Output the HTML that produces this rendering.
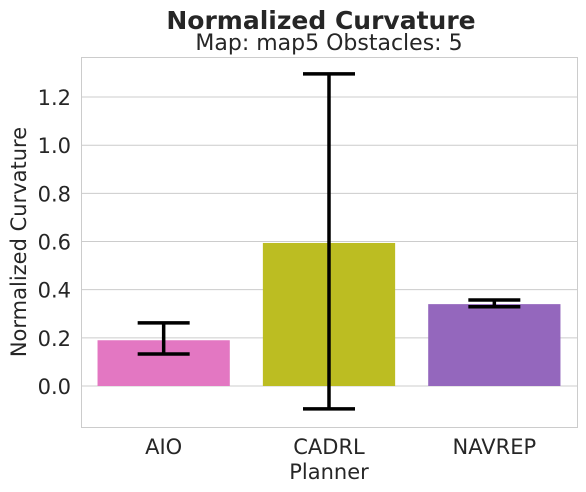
<!DOCTYPE html>
<html><head><meta charset="utf-8"><style>
body{margin:0;background:#fff;}
svg{display:block;font-family:"DejaVu Sans","Liberation Sans",sans-serif;}
</style></head><body>
<svg id="chart" width="586" height="492">
<text x="321" y="29" text-anchor="middle" font-size="25" font-weight="bold" fill="#262626">Normalized Curvature</text>
<text x="329" y="50" text-anchor="middle" font-size="22" fill="#262626">Map: map5 Obstacles: 5</text>
<text transform="translate(26,242) rotate(-90)" text-anchor="middle" font-size="21" fill="#262626">Normalized Curvature</text>
<text x="329" y="479" text-anchor="middle" font-size="21" fill="#262626">Planner</text>
<g id="grid"></g><g id="bars"></g><g id="errs"></g>
<rect x="81.5" y="57.5" width="496" height="370" fill="none" stroke="#cccccc" stroke-width="1"/>
</svg>
<script>
const categories = ["AIO","CADRL","NAVREP"];
const values = [0.19, 0.594, 0.34];
const errLow = [0.133, -0.095, 0.329];
const errHigh = [0.262, 1.296, 0.357];
const colors = ["#e377c2","#bcbd22","#9467bd"];
const yTicks = [0.0,0.2,0.4,0.6,0.8,1.0,1.2];
const yTickLabels = ["0.0","0.2","0.4","0.6","0.8","1.0","1.2"];
const NS="http://www.w3.org/2000/svg";
const left=81, right=577;
function y(v){return 386 - v*240.8;}
const band=(right-left)/categories.length;
function xc(i){return left+band*(i+0.5);}
function mk(t,a,parent){const e=document.createElementNS(NS,t);for(const k in a)e.setAttribute(k,a[k]);parent.appendChild(e);return e;}
const grid=document.getElementById('grid'),bars=document.getElementById('bars'),errs=document.getElementById('errs'),svg=document.getElementById('chart');
yTicks.forEach((t,i)=>{
  const l=mk('line',{x1:left,x2:right,y1:y(t),y2:y(t),stroke:'#cccccc','stroke-width':1},grid);
  
  
  const tx=mk('text',{x:71,y:y(t)+8,'text-anchor':'end','font-size':21,fill:'#262626'},grid);
  tx.textContent=yTickLabels[i];
  
  
});
categories.forEach((c,i)=>{
  const w=band*0.8, cx=xc(i);
  const top=Math.min(y(values[i]),y(0)), h=Math.abs(y(values[i])-y(0));
  const r=mk('rect',{x:cx-w/2,y:top,width:w,height:h,fill:colors[i]},bars);
  
  
  const g=mk('g',{stroke:'#000','stroke-width':3.5},errs);
  
  
  mk('line',{x1:cx,x2:cx,y1:y(errLow[i]),y2:y(errHigh[i])},g);
  mk('line',{x1:cx-26,x2:cx+26,y1:y(errLow[i]),y2:y(errLow[i])},g);
  mk('line',{x1:cx-26,x2:cx+26,y1:y(errHigh[i]),y2:y(errHigh[i])},g);
  const tx=mk('text',{x:cx,y:454,'text-anchor':'middle','font-size':21,fill:'#262626'},svg);
  tx.textContent=c;
  
  
});
</script>
</body></html>
